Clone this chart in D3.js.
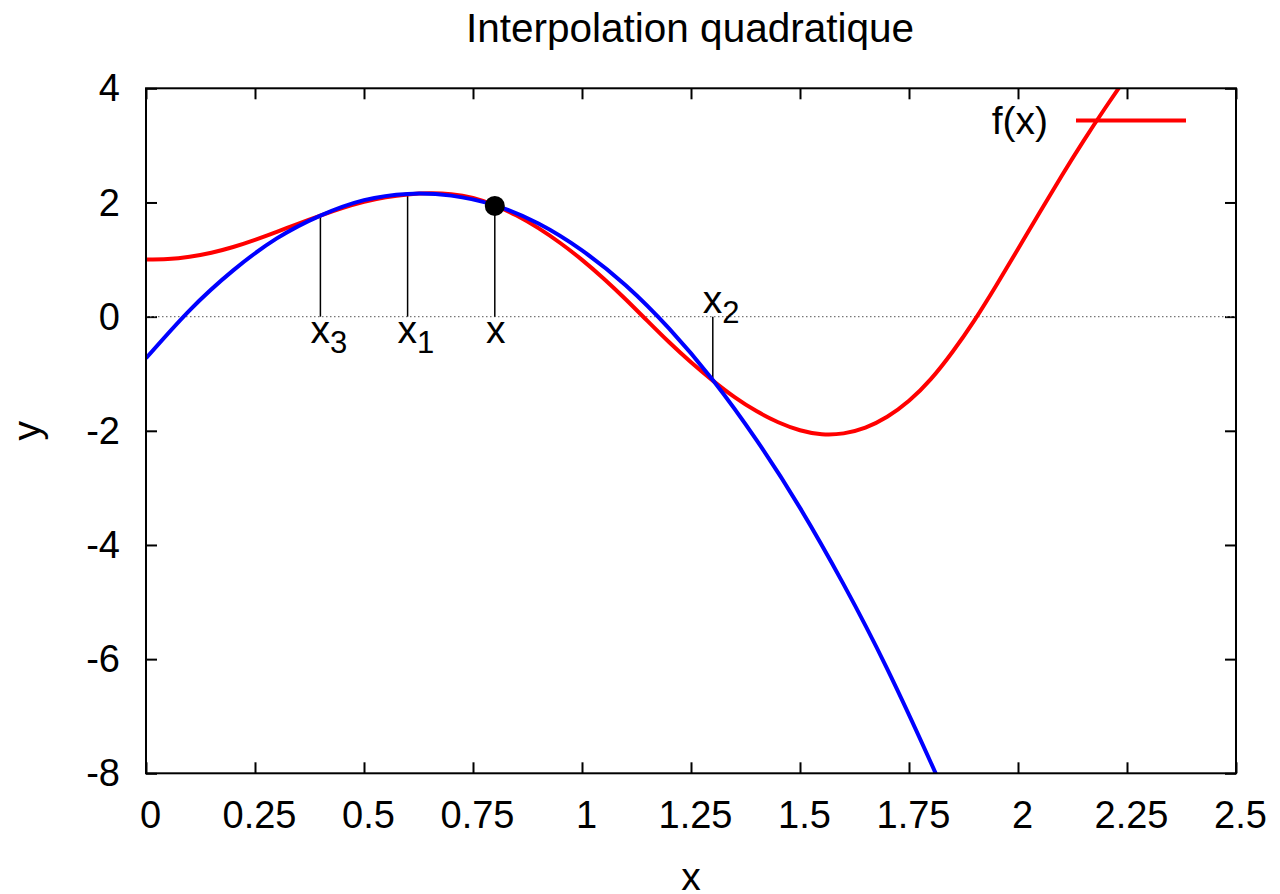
<!DOCTYPE html>
<html>
<head>
<meta charset="utf-8">
<script src="https://cdnjs.cloudflare.com/ajax/libs/d3/7.8.5/d3.min.js"></script>
<style>
  body { margin: 0; background: #fff; }
  svg { display: block; font-family: "Liberation Sans", Arial, Helvetica, sans-serif; }
</style>
</head>
<body>
<svg width="1280" height="894"></svg>
<script>
// f(x)
var fX = [0, 0.05, 0.1, 0.15, 0.2, 0.25, 0.3, 0.35, 0.4, 0.45, 0.5, 0.55, 0.6, 0.65, 0.7, 0.75,
  0.8, 0.85, 0.9, 0.95, 1.0, 1.05, 1.1, 1.15, 1.2, 1.25, 1.3, 1.35, 1.4, 1.45, 1.5, 1.55,
  1.6, 1.65, 1.7, 1.75, 1.8, 1.85, 1.9, 1.95, 2.0, 2.05, 2.1, 2.15, 2.2, 2.25];
var fY = [1.00, 1.01, 1.05, 1.12, 1.22, 1.345, 1.485, 1.63, 1.77, 1.90, 2.01, 2.09, 2.14, 2.16, 2.145, 2.08,
  1.95, 1.77, 1.55, 1.29, 0.995, 0.665, 0.305, -0.075, -0.45, -0.80, -1.12, -1.41, -1.655, -1.85, -1.99, -2.06,
  -2.045, -1.945, -1.755, -1.475, -1.095, -0.615, -0.065, 0.545, 1.185, 1.83, 2.465, 3.075, 3.655, 4.215];

// quadratic interpolant (blue)
var pX = [0, 0.1, 0.2, 0.3, 0.4, 0.5, 0.6, 0.7, 0.8, 0.9, 1.0, 1.1, 1.2, 1.3, 1.4, 1.5, 1.6, 1.7, 1.8, 1.85];
var pY = [-0.73, 0.11, 0.81, 1.37, 1.77, 2.04, 2.15, 2.12, 1.95, 1.63, 1.16, 0.55, -0.21, -1.11, -2.16, -3.35, -4.69, -6.17, -7.81, -8.68];

// nodes and evaluation point
var nodeX = [0.6, 1.3, 0.4];
var nodeY = [2.13, -1.11, 1.77];
var nodeSub = ["1", "2", "3"];
var ptX = 0.8, ptY = 1.94;

var xTicks = [0, 0.25, 0.5, 0.75, 1, 1.25, 1.5, 1.75, 2, 2.25, 2.5];
var xTickLabels = ["0", "0.25", "0.5", "0.75", "1", "1.25", "1.5", "1.75", "2", "2.25", "2.5"];
var yTicks = [-8, -6, -4, -2, 0, 2, 4];
var yTickLabels = ["-8", "-6", "-4", "-2", "0", "2", "4"];

var svg = d3.select("svg");
var mLeft = 146, mRight = 1236, mTop = 88.3, mBottom = 773.3;

var x = d3.scaleLinear().domain([0, 2.5]).range([mLeft, mRight]);
var y = d3.scaleLinear().domain([-8, 4]).range([mBottom, mTop]);

svg.append("defs").append("clipPath").attr("id", "clip")
  .append("rect").attr("x", mLeft).attr("y", mTop).attr("width", mRight - mLeft).attr("height", mBottom - mTop);

// title
svg.append("text").attr("x", (mLeft + mRight) / 2 - 1).attr("y", 42)
  .attr("text-anchor", "middle").style("font-size", "40.5px")
  .text("Interpolation quadratique");

// axes
var gx = svg.append("g").attr("transform", "translate(0," + mBottom + ")")
  .call(d3.axisBottom(x).tickValues(xTicks).tickFormat(function(d, i) { return xTickLabels[i]; }).tickSize(-11).tickSizeOuter(0));
gx.selectAll("text").attr("y", 55).attr("dy", 0).attr("dx", 4).style("font-size", "38px").attr("fill", "#000");

svg.append("g").attr("transform", "translate(0," + mTop + ")")
  .call(d3.axisTop(x).tickValues(xTicks).tickFormat("").tickSize(-11).tickSizeOuter(0));

var gy = svg.append("g").attr("transform", "translate(" + mLeft + ",0)")
  .call(d3.axisLeft(y).tickValues(yTicks).tickFormat(function(d, i) { return yTickLabels[i]; }).tickSize(-11).tickSizeOuter(0));
gy.selectAll("text").attr("x", -26).attr("dy", "0.33em").style("font-size", "38px").attr("fill", "#000");

svg.append("g").attr("transform", "translate(" + mRight + ",0)")
  .call(d3.axisRight(y).tickValues(yTicks).tickFormat("").tickSize(-11).tickSizeOuter(0));

svg.selectAll(".domain").remove();
svg.selectAll(".tick line").attr("stroke", "#000").attr("stroke-width", 2);

// axis titles
svg.append("text").attr("x", (mLeft + mRight) / 2).attr("y", 890)
  .attr("text-anchor", "middle").style("font-size", "39px").text("x");
svg.append("text").attr("transform", "translate(40," + ((mTop + mBottom) / 2) + ") rotate(-90)")
  .attr("text-anchor", "middle").style("font-size", "39px").text("y");

// zero line
svg.append("line")
  .attr("x1", x(0)).attr("x2", x(2.5)).attr("y1", y(0)).attr("y2", y(0))
  .attr("stroke", "#777").attr("stroke-width", 1.3).attr("stroke-dasharray", "1.5,2.5");

// vertical markers
var marks = nodeX.concat([ptX]);
var markY = nodeY.concat([ptY]);
svg.selectAll(".mark").data(marks).enter().append("line").attr("class", "mark")
  .attr("x1", function(d) { return x(d); }).attr("x2", function(d) { return x(d); })
  .attr("y1", y(0)).attr("y2", function(d, i) { return y(markY[i]); })
  .attr("stroke", "#000").attr("stroke-width", 1.5);

// labels x_i
nodeX.forEach(function(d, i) {
  var below = nodeY[i] > 0;
  var t = svg.append("text").attr("x", x(d) - 10).attr("y", below ? y(0) + 26 : y(0) - 4)
    .style("font-size", "39px");
  t.append("tspan").text("x");
  t.append("tspan").attr("dy", 10).style("font-size", "31px").text(nodeSub[i]);
});
svg.append("text").attr("x", x(ptX) + 1).attr("y", y(0) + 26)
  .attr("text-anchor", "middle").style("font-size", "39px").text("x");

// curves
var line = d3.line().curve(d3.curveNatural)
  .x(function(d) { return x(d[0]); })
  .y(function(d) { return y(d[1]); });

var plot = svg.append("g").attr("clip-path", "url(#clip)");
plot.append("path").datum(d3.zip(fX, fY)).attr("d", line)
  .attr("fill", "none").attr("stroke", "#ff0000").attr("stroke-width", 4);
plot.append("path").datum(d3.zip(pX, pY)).attr("d", line)
  .attr("fill", "none").attr("stroke", "#0000ff").attr("stroke-width", 4);

// point
svg.append("circle").attr("cx", x(ptX)).attr("cy", y(ptY)).attr("r", 10).attr("fill", "#000");

// legend
svg.append("text").attr("x", 1048).attr("y", 134).attr("text-anchor", "end")
  .style("font-size", "39px").text("f(x)");
svg.append("line").attr("x1", 1076).attr("x2", 1186).attr("y1", 120.5).attr("y2", 120.5)
  .attr("stroke", "#ff0000").attr("stroke-width", 4);

// frame
svg.append("rect").attr("x", mLeft).attr("y", mTop).attr("width", mRight - mLeft).attr("height", mBottom - mTop)
  .attr("fill", "none").attr("stroke", "#000").attr("stroke-width", 2);
</script>
</body>
</html>
